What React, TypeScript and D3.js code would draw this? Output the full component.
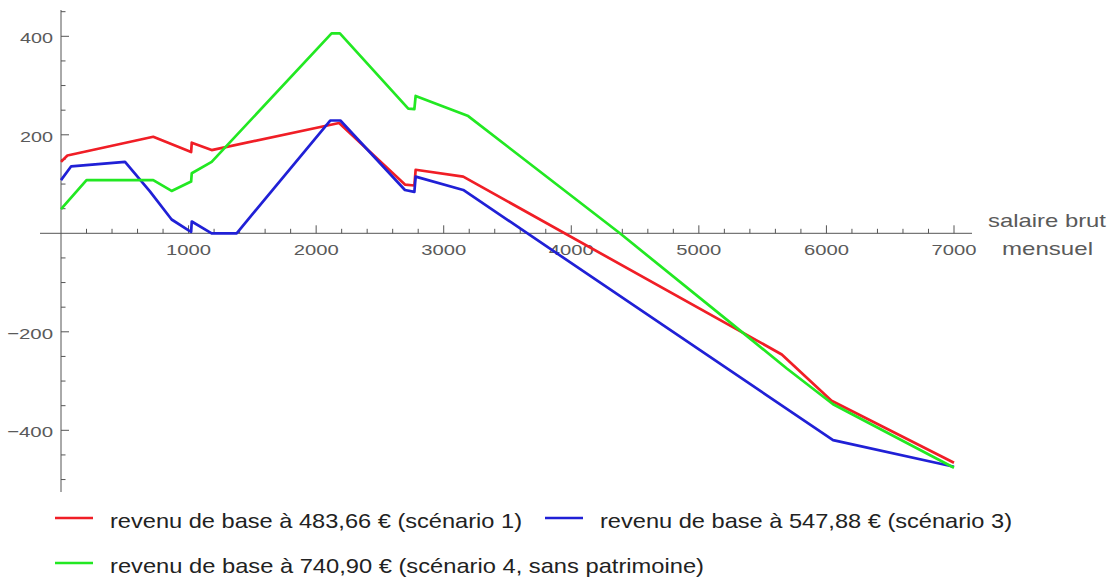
import React from "react";
import * as d3 from "d3";

// ---- Data ----
const redX = [0, 50, 723, 1020, 1025, 1181, 2180, 2696, 2770, 2780, 3153, 5650, 6040, 7000];
const redY = [145, 158, 196, 165, 184, 169, 224, 99, 97, 129, 115, -246, -340, -466];

const blueX = [0, 80, 502, 697, 867, 1000, 1020, 1025, 1181, 1377, 2110, 2190, 2696, 2770, 2780, 3153, 6052, 7000];
const blueY = [108, 136, 145, 85, 28, 6, 3, 24, 0, 0, 229, 229, 88, 84, 115, 88, -420, -474];

const greenX = [0, 200, 723, 867, 1020, 1025, 1181, 2121, 2186, 2722, 2770, 2780, 3192, 4381, 5269, 5687, 6052, 7000];
const greenY = [49, 108, 108, 86, 105, 122, 145, 406, 406, 253, 252, 279, 238, 0, -186, -274, -347, -476];

const xTickValues = [1000, 2000, 3000, 4000, 5000, 6000, 7000];
const xTickLabels = ["1000", "2000", "3000", "4000", "5000", "6000", "7000"];
const yTickValues = [400, 200, -200, -400];
const yTickLabels = ["400", "200", "\u2212200", "\u2212400"];

const seriesNames = [
  "revenu de base à 483,66 € (scénario 1)",
  "revenu de base à 547,88 € (scénario 3)",
  "revenu de base à 740,90 € (scénario 4, sans patrimoine)",
];
const axisLabelLines = ["salaire brut", "mensuel"];

const COLORS = ["#f01e26", "#2020d6", "#22e822"];

export default function App() {
  const W = 1112;
  const H = 578;
  const x = d3.scaleLinear().domain([0, 7000]).range([61, 954]);
  const y = d3.scaleLinear().domain([0, 400]).range([233.3, 36.3]);

  const line = d3
    .line<[number, number]>()
    .x((d) => x(d[0]))
    .y((d) => y(d[1]));

  const series = [
    redX.map((v, i) => [v, redY[i]] as [number, number]),
    blueX.map((v, i) => [v, blueY[i]] as [number, number]),
    greenX.map((v, i) => [v, greenY[i]] as [number, number]),
  ];

  const xMinor = d3.range(200, 7001, 200).filter((v) => v % 1000 !== 0);
  const yMinor = d3.range(-500, 451, 50).filter((v) => v % 200 !== 0);

  const axisColor = "#555";
  const labelColor = "#5a5a5a";
  const font = "'Liberation Sans', Arial, sans-serif";

  const x0 = x(0);
  const y0 = y(0);

  return (
    <svg
      width={W}
      height={H}
      style={{ position: "absolute", left: 0, top: 0, background: "#fff" }}
      fontFamily={font}
    >
      <rect x={0} y={0} width={W} height={H} fill="#fff" />
      {/* X axis */}
      <line x1={40} x2={972} y1={y0} y2={y0} stroke={axisColor} strokeWidth={1} />
      {xMinor.map((v) => (
        <line key={"xm" + v} x1={x(v)} x2={x(v)} y1={y0} y2={y0 - 4.5} stroke={axisColor} strokeWidth={1} />
      ))}
      {xTickValues.map((v, i) => (
        <g key={"xt" + v}>
          <line x1={x(v)} x2={x(v)} y1={y0} y2={y0 - 8} stroke={axisColor} strokeWidth={1} />
          <text
            x={x(v)}
            y={255}
            textAnchor="middle"
            fontSize={15.5}
            fill={labelColor}
            textLength={45}
            lengthAdjust="spacingAndGlyphs"
          >
            {xTickLabels[i]}
          </text>
        </g>
      ))}
      {/* Y axis */}
      <line x1={x0} x2={x0} y1={10} y2={492} stroke={axisColor} strokeWidth={1} />
      {yMinor.map((v) => (
        <line key={"ym" + v} x1={x0} x2={x0 + 4.5} y1={y(v)} y2={y(v)} stroke={axisColor} strokeWidth={1} />
      ))}
      {yTickValues.map((v, i) => (
        <g key={"yt" + v}>
          <line x1={x0} x2={x0 + 8} y1={y(v)} y2={y(v)} stroke={axisColor} strokeWidth={1} />
          <text
            x={53}
            y={y(v) + 7}
            textAnchor="end"
            fontSize={15.5}
            fill={labelColor}
            textLength={yTickLabels[i].length > 3 ? 46 : 33}
            lengthAdjust="spacingAndGlyphs"
          >
            {yTickLabels[i]}
          </text>
        </g>
      ))}
      {/* axis label */}
      <text x={1047} y={227} textAnchor="middle" fontSize={19} fill={labelColor} textLength={118} lengthAdjust="spacingAndGlyphs">
        {axisLabelLines[0]}
      </text>
      <text x={1047.5} y={255} textAnchor="middle" fontSize={19} fill={labelColor} textLength={91} lengthAdjust="spacingAndGlyphs">
        {axisLabelLines[1]}
      </text>
      {/* series */}
      {series.map((s, i) => (
        <path
          key={"s" + i}
          d={line(s) || ""}
          fill="none"
          stroke={COLORS[i]}
          strokeWidth={2.7}
          strokeLinejoin="round"
        />
      ))}
      {/* legend */}
      {[
        { lx: 55, ty: 518, tx: 110, len: 412 },
        { lx: 545, ty: 518, tx: 600, len: 412 },
        { lx: 55, ty: 563, tx: 110, len: 594 },
      ].map((p, i) => (
        <g key={"lg" + i}>
          <line x1={p.lx} x2={p.lx + 38} y1={p.ty} y2={p.ty} stroke={COLORS[i]} strokeWidth={2.7} />
          <text
            x={p.tx}
            y={p.ty + 10}
            fontSize={21}
            fill="#222"
            textLength={p.len}
            lengthAdjust="spacingAndGlyphs"
          >
            {seriesNames[i]}
          </text>
        </g>
      ))}
    </svg>
  );
}
